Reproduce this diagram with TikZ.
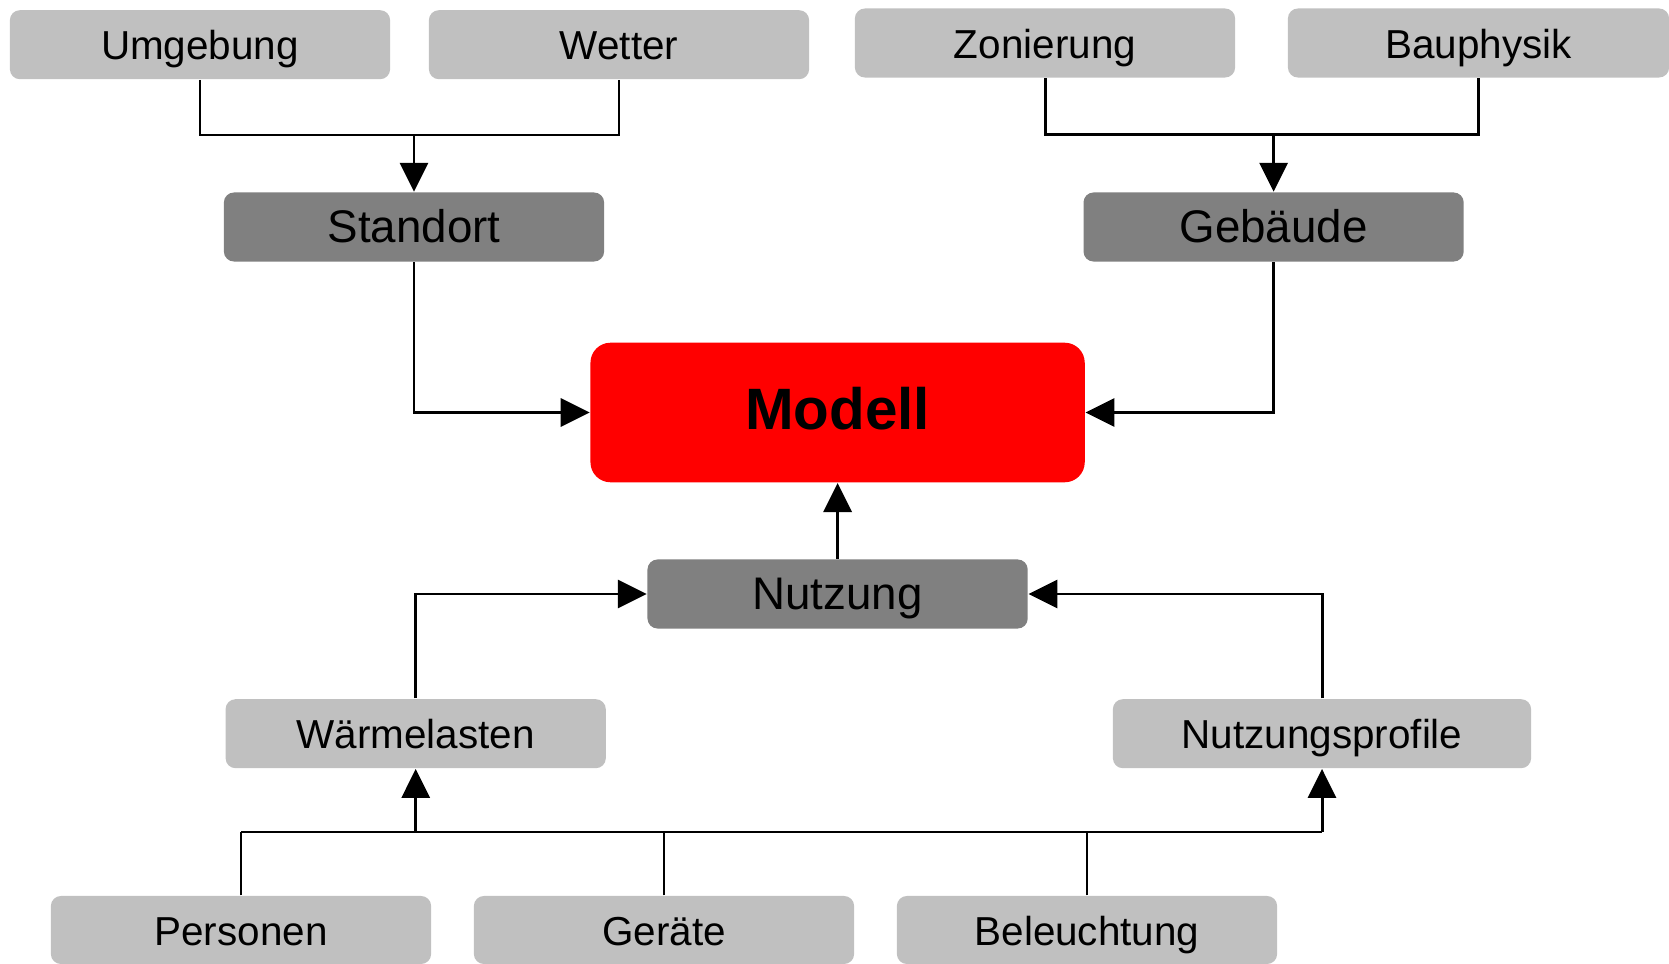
\documentclass[tikz,border=0pt]{standalone}
\usepackage{fontspec}
\setmainfont{Liberation Sans}
\usepackage{xcolor}
\usepackage{tikz}
\usetikzlibrary{arrows.meta}

\definecolor{liteGray}{HTML}{C0C0C0}
\definecolor{darkGray}{HTML}{808080}

\begin{document}
\begin{tikzpicture}[x=0.01cm, y=-0.01cm,
  box/.style={rounded corners=0.1cm, minimum height=0.69cm, text height=0.86em, text depth=0pt, inner sep=0pt, align=center},
  lite/.style={box, fill=liteGray, minimum width=3.8cm, font=\fontsize{11.5}{13}\selectfont},
  dark/.style={box, fill=darkGray, minimum width=3.8cm, font=\fontsize{13}{15}\selectfont},
  core/.style={box, fill=red, rounded corners=0.2cm, minimum width=4.94cm, minimum height=1.395cm, text height=0.98em, font=\fontsize{16.6}{19}\selectfont\bfseries},
  link/.style={line width=0.6pt},
  bus/.style={line width=0.85pt},
  arr/.style={-{Triangle[length=0.29cm, width=0.28cm]}, line width=0.85pt}
]
\useasboundingbox (0,0) rectangle (1669,964);

% top row
\node[lite] (umg) at (200, 44.7) {Umgebung};
\node[lite] (wet) at (619, 44.7) {Wetter};
\node[lite] (zon) at (1045, 43) {Zonierung};
\node[lite, minimum width=3.81cm] (bph) at (1478.5, 43) {Bauphysik};

% second row
\node[dark] (std) at (414, 227) {Standort};
\node[dark] (geb) at (1273.6, 227) {Gebäude};

% centre
\node[core] (mod) at (837.6, 412.5) {Modell};
\node[dark] (nut) at (837.6, 594) {Nutzung};

% lower rows
\node[lite] (wae) at (415.7, 733.7) {Wärmelasten};
\node[lite, minimum width=4.18cm] (npr) at (1322, 733.7) {Nutzungsprofile};
\node[lite, minimum height=0.68cm] (per) at (241, 930) {Personen};
\node[lite, minimum height=0.68cm] (ger) at (664, 930) {Geräte};
\node[lite, minimum height=0.68cm] (bel) at (1087, 930) {Beleuchtung};

% junctions
\coordinate (jl) at (414, 135);
\coordinate (jr) at (1273.6, 135);
\coordinate (jb) at (0, 832);

\draw[link] (umg.south) |- (jl) -| (wet.south);
\draw[arr] (jl) -- (std.north);
\draw[bus] (zon.south) |- (jr) -| (bph.south);
\draw[arr] (jr) -- (geb.north);

\draw[arr] (std.south) |- (mod.west);
\draw[arr] (geb.south) |- (mod.east);
\draw[arr] (nut.north) -- (mod.south);

\draw[arr] (wae.north) |- (nut.west);
\draw[arr] (npr.north) |- (nut.east);

\draw[link] (per.north) -- (per.north |- jb);
\draw[link] (ger.north) -- (ger.north |- jb);
\draw[link] (bel.north) -- (bel.north |- jb);
\draw[bus] (per.north |- jb) -- (npr.south |- jb);
\draw[arr] (wae.south |- jb) -- (wae.south);
\draw[arr] (npr.south |- jb) -- (npr.south);
\end{tikzpicture}
\end{document}
